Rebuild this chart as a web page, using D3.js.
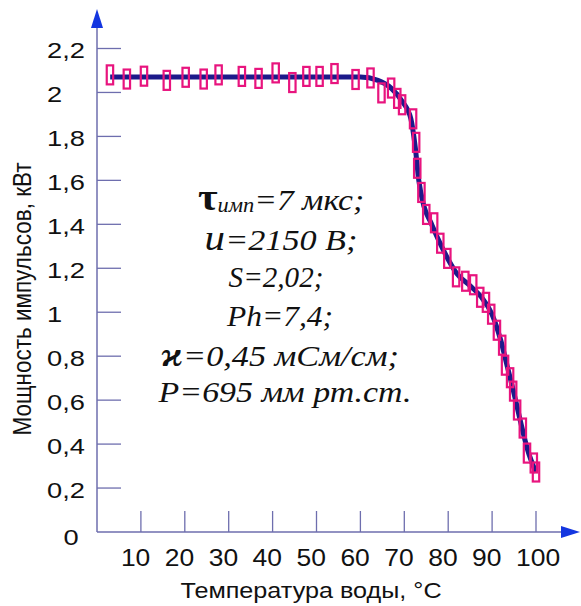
<!DOCTYPE html>
<html><head><meta charset="utf-8">
<script src="https://cdn.jsdelivr.net/npm/d3@7"></script>
<style>body{margin:0;background:#fff}svg{display:block}</style>
</head><body>
<svg id="c" width="581" height="606"></svg>
<script>
// ---- data ----
const markerT = [2.95,6.8,10.7,15.9,20.2,24.3,27.7,33.0,36.8,40.7,44.5,47.7,50.7,54.1,58.9,62.3,64.8,67.0,68.4,69.5,72.0,72.7,72.95,73.9,75.0,76.8,78.2,79.8,81.8,83.9,85.7,87.3,88.6,89.8,91.1,92.3,92.95,94.1,94.8,95.7,97.0,97.95,99.5,100.0];
const markerP = [2.080,2.061,2.074,2.055,2.069,2.061,2.080,2.073,2.064,2.089,2.045,2.073,2.073,2.086,2.059,2.066,1.998,2.020,1.973,1.944,1.880,1.773,1.655,1.545,1.445,1.407,1.314,1.245,1.161,1.141,1.125,1.068,1.045,0.991,0.918,0.850,0.759,0.702,0.641,0.555,0.473,0.359,0.314,0.273];
const lineT = [3,30,60,64,67,69.5,71.5,72.5,73.3,74.5,76,78,80,82,85,87.5,90,92,93.5,95,96.5,98,100];
const lineP = [2.07,2.07,2.07,2.055,2.02,1.96,1.88,1.75,1.6,1.48,1.41,1.32,1.24,1.175,1.12,1.07,0.99,0.87,0.75,0.63,0.5,0.38,0.27];
const xTicks = [10,20,30,40,50,60,70,80,90,100];
const yTicks = [0.2,0.4,0.6,0.8,1,1.2,1.4,1.6,1.8,2,2.2];
const yLabels = ["0,2","0,4","0,6","0,8","1","1,2","1,4","1,6","1,8","2","2,2"];
const originLabel = "0";
const xTitle = "Температура воды, °C";
const yTitle = "Мощность импульсов, кВт";

// ---- drawing ----
const svg = d3.select("#c");
const x = d3.scaleLinear().domain([0,100]).range([97,536]);
const y = d3.scaleLinear().domain([0,2.2]).range([532,48.5]);
const axisCol = "#6e6eae", arrowCol = "#1436e0";
const sans = "Liberation Sans, Arial, sans-serif";

// axes lines
svg.append("line").attr("x1",x(0)).attr("x2",x(0)).attr("y1",y(0)).attr("y2",22)
  .attr("stroke",axisCol).attr("stroke-width",1.5);
svg.append("line").attr("x1",x(0)).attr("x2",566).attr("y1",y(0)).attr("y2",y(0))
  .attr("stroke",axisCol).attr("stroke-width",1.5);
svg.append("path").attr("d",`M${x(0)},9 L${x(0)-6},28 L${x(0)+6},28 Z`).attr("fill",arrowCol);
svg.append("path").attr("d",`M580,${y(0)} L561,${y(0)-6} L561,${y(0)+6} Z`).attr("fill",arrowCol);

// y ticks (inward)
svg.append("g").selectAll("line").data(yTicks).join("line")
  .attr("x1",x(0)).attr("x2",x(0)+24).attr("y1",d=>y(d)).attr("y2",d=>y(d))
  .attr("stroke",axisCol).attr("stroke-width",1.3);
// x ticks (upward)
svg.append("g").selectAll("line").data(xTicks).join("line")
  .attr("x1",d=>x(d)).attr("x2",d=>x(d)).attr("y1",y(0)).attr("y2",y(0)-21)
  .attr("stroke",axisCol).attr("stroke-width",1.3);

// tick labels (left-aligned, as in the original)
svg.append("g").selectAll("text").data(yTicks).join("text")
  .attr("transform",d=>`translate(47,${y(d)+9.5}) scale(1.24,1)`)
  .attr("text-anchor","start").attr("font-family",sans)
  .attr("font-size",22).attr("fill","#111").text((d,i)=>yLabels[i]);
svg.append("text").attr("transform",`translate(63.5,${y(0)+13}) scale(1.24,1)`)
  .attr("font-family",sans).attr("font-size",22).attr("fill","#111").text(originLabel);
svg.append("g").selectAll("text").data(xTicks).join("text")
  .attr("transform",d=>`translate(${x(d)-20},566) scale(1.15,1)`).attr("text-anchor","start")
  .attr("font-family",sans)
  .attr("font-size",23).attr("fill","#111").text(d=>d);

// titles
svg.append("text").attr("transform",`translate(311,598) scale(1.12,1)`).attr("text-anchor","middle")
  .attr("font-family",sans).attr("font-size",22.5).attr("fill","#111").text(xTitle);
svg.append("text").attr("transform","translate(31,299) rotate(-90) scale(1,1.12)").attr("text-anchor","middle")
  .attr("font-family",sans).attr("font-size",22.5).attr("fill","#111").text(yTitle);

// curve
const lineData = lineT.map((t,i)=>[t,lineP[i]]);
svg.append("path").datum(lineData)
  .attr("d",d3.line().x(d=>x(d[0])).y(d=>y(d[1])).curve(d3.curveMonotoneX))
  .attr("fill","none").attr("stroke","#1c1a8a").attr("stroke-width",5);

// markers
const mk = markerT.map((t,i)=>[t,markerP[i]]);
svg.append("g").selectAll("rect").data(mk).join("rect")
  .attr("x",d=>x(d[0])-3.2).attr("y",d=>y(d[1])-9.5).attr("width",6.4).attr("height",19)
  .attr("fill","none").attr("stroke","#e8147e").attr("stroke-width",2.2);

// annotation block
const serif = "Liberation Serif, Times New Roman, serif";
const ann = svg.append("g").attr("font-family",serif).attr("font-style","italic").attr("font-size",30).attr("fill","#111").attr("text-anchor","middle");
function line(cx,cy,s){ return ann.append("text").attr("transform",`translate(${cx},${cy}) scale(${s},1)`); }
const l1 = line(281,210,1.12);
l1.append("tspan").attr("font-size",38).attr("font-weight","bold").attr("font-style","normal").text("τ");
l1.append("tspan").attr("font-size",20).attr("dy",2).text("имп");
l1.append("tspan").attr("dy",-2).text("=7 мкс;");
const l2 = line(281,250,1.14);
l2.append("tspan").attr("font-size",36).text("u");
l2.append("tspan").text("=2150 В;");
line(276,287,0.97).text("S=2,02;");
line(280,326,1.05).text("Ph=7,4;");
const l5 = line(280,366,1.14);
l5.append("tspan").attr("font-weight","bold").attr("font-size",34).text("ϰ");
l5.append("tspan").text("=0,45 мСм/см;");
line(285,402,1.13).text("P=695 мм рт.ст.");
</script>
</body></html>
